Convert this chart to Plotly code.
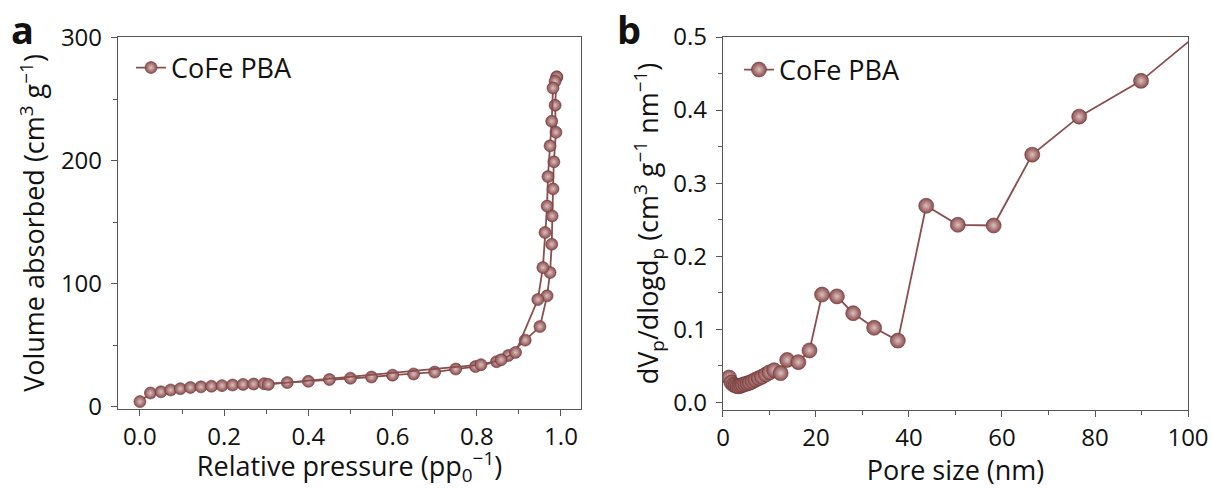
import plotly.graph_objects as go

# ---------------- data ----------------
# Panel a: N2 isotherm (adsorption / desorption branches)
p_ads = [0.0, 0.025, 0.05, 0.073, 0.096, 0.12, 0.145, 0.17, 0.195, 0.22, 0.245, 0.27, 0.295,
         0.35, 0.40, 0.45, 0.50, 0.55, 0.60, 0.65, 0.70, 0.75, 0.797, 0.847, 0.875, 0.915,
         0.950, 0.967, 0.974, 0.978, 0.979, 0.981, 0.983, 0.988, 0.986, 0.990]
v_ads = [4, 11, 12, 13.5, 14.5, 15.5, 16, 16.5, 17, 17.5, 18, 18.3, 18.6,
         19.5, 20.5, 22, 23, 24, 25.5, 26.5, 28, 30.5, 32.5, 36.5, 41.5, 54,
         65, 90, 109, 132, 155, 177, 199, 223, 245, 268]
p_des = [0.990, 0.986, 0.981, 0.978, 0.974, 0.969, 0.967, 0.962, 0.957, 0.945,
         0.892, 0.858, 0.810, 0.305]
v_des = [268, 264.5, 259, 232, 212, 187, 163, 141.5, 113, 87,
         44, 38, 34, 18]

# Panel b: pore size distribution
pore_size = [1.3, 1.8, 2.3, 2.7, 3.1, 3.5, 3.9, 4.3, 4.8, 5.3, 5.8, 6.4, 7.0, 7.7, 8.4,
             9.2, 10.0, 11.0, 12.4, 13.8, 16.2, 18.6, 21.3, 24.5, 28.0, 32.5, 37.6,
             43.7, 50.5, 58.2, 66.5, 76.6, 89.9, 108.0]
dv_dlogd = [0.034, 0.027, 0.024, 0.023, 0.022, 0.022, 0.023, 0.024, 0.025, 0.026, 0.027,
            0.029, 0.031, 0.033, 0.035, 0.038, 0.041, 0.044, 0.040, 0.058, 0.055, 0.071,
            0.1475, 0.145, 0.122, 0.102, 0.0845, 0.269, 0.243, 0.242, 0.339, 0.391,
            0.440, 0.535]

series_name = "CoFe PBA"
a_xticks = [0.0, 0.2, 0.4, 0.6, 0.8, 1.0]
a_yticks = [0, 100, 200, 300]
b_xticks = [0, 20, 40, 60, 80, 100]
b_yticks = [0.0, 0.1, 0.2, 0.3, 0.4, 0.5]

# ---------------- style ----------------
FONT = "Open Sans"
LINE_C = "#8a4e4e"
BALL_C = "#8a4c4c"
HILITE = "#dcc0c0"
AXIS_C = "#555555"
TXT_C = "#111111"

W, H = 1212, 488

def ball(size):
    return dict(size=size, color=BALL_C,
                gradient=dict(type="radial", color=HILITE),
                line=dict(width=0.6, color="#6e3838"))

fig = go.Figure()

fig.add_trace(go.Scatter(x=p_ads, y=v_ads, mode="lines+markers", name=series_name,
                         line=dict(color=LINE_C, width=1.8), marker=ball(12),
                         xaxis="x", yaxis="y", legend="legend", legendgroup="a"))
fig.add_trace(go.Scatter(x=p_des, y=v_des, mode="lines+markers", name=series_name,
                         line=dict(color=LINE_C, width=1.8), marker=ball(12),
                         xaxis="x", yaxis="y", showlegend=False, legendgroup="a"))
fig.add_trace(go.Scatter(x=pore_size, y=dv_dlogd, mode="lines+markers", name=series_name,
                         line=dict(color=LINE_C, width=1.8), marker=ball(15),
                         xaxis="x2", yaxis="y2", legend="legend2"))

tickfont = dict(family=FONT, size=24, color=TXT_C)
titlefont = dict(family=FONT, size=27, color=TXT_C)

def axis_common(standoff):
    return dict(showline=True, mirror=True, linecolor=AXIS_C, linewidth=1.3,
                ticks="outside", ticklen=6, tickwidth=1.2, tickcolor=AXIS_C,
                showgrid=False, zeroline=False, tickfont=tickfont,
                ticklabelstandoff=standoff,
                title_font=titlefont, automargin=False)

fig.update_layout(
    width=W, height=H,
    margin=dict(l=0, r=0, t=0, b=0, autoexpand=False),
    paper_bgcolor="white", plot_bgcolor="white",
    font=dict(family=FONT),
    xaxis=dict(domain=[0.09736, 0.47937], range=[-0.052, 1.0475], anchor="y",
               tickvals=a_xticks, tickformat=".1f",
               minor=dict(dtick=0.1, tick0=0, ticks="outside", ticklen=4, tickcolor=AXIS_C),
               title=dict(text="Relative pressure (pp<sub>0</sub><sup>−1</sup>)", standoff=2),
               **axis_common(0)),
    yaxis=dict(domain=[0.16189, 0.92418], range=[-2, 300.5], anchor="x",
               tickvals=a_yticks,
               minor=dict(dtick=50, tick0=0, ticks="outside", ticklen=4, tickcolor=AXIS_C),
               title=dict(text="Volume absorbed (cm<sup>3</sup> g<sup>−1</sup>)", standoff=8),
               **axis_common(4)),
    xaxis2=dict(domain=[0.59653, 0.98020], range=[0, 100], anchor="y2",
                tickvals=b_xticks,
                minor=dict(dtick=10, tick0=0, ticks="outside", ticklen=4, tickcolor=AXIS_C),
                title=dict(text="Pore size (nm)", standoff=2),
                **axis_common(0)),
    yaxis2=dict(domain=[0.15984, 0.92418], range=[-0.0105, 0.5], anchor="x2",
                tickvals=b_yticks, tickformat=".1f",
                minor=dict(dtick=0.05, tick0=0, ticks="outside", ticklen=4, tickcolor=AXIS_C),
                title=dict(text="dV<sub>p</sub>/dlogd<sub>p</sub> (cm<sup>3</sup> g<sup>−1</sup> nm<sup>−1</sup>)",
                           standoff=6),
                **axis_common(4)),
    legend=dict(x=0.1081, y=0.8607, xanchor="left", yanchor="middle",
                bgcolor="rgba(0,0,0,0)", font=dict(family=FONT, size=27, color=TXT_C),
                itemwidth=30),
    legend2=dict(x=0.6097, y=0.8566, xanchor="left", yanchor="middle",
                 bgcolor="rgba(0,0,0,0)", font=dict(family=FONT, size=27, color=TXT_C),
                 itemwidth=30),
    annotations=[
        dict(text="<b>a</b>", x=0.01856, y=0.9406, xref="paper", yref="paper",
             xanchor="center", yanchor="middle", showarrow=False,
             font=dict(family=FONT, size=38, color=TXT_C)),
        dict(text="<b>b</b>", x=0.519, y=0.9406, xref="paper", yref="paper",
             xanchor="center", yanchor="middle", showarrow=False,
             font=dict(family=FONT, size=38, color=TXT_C)),
    ],
)

# remove the default 8 px page margin so the 1212x488 figure fills the window exactly
fig.write_html("out.html",
               config={"displayModeBar": False},
               post_script="document.body.style.margin='0';document.body.style.overflow='hidden';")
